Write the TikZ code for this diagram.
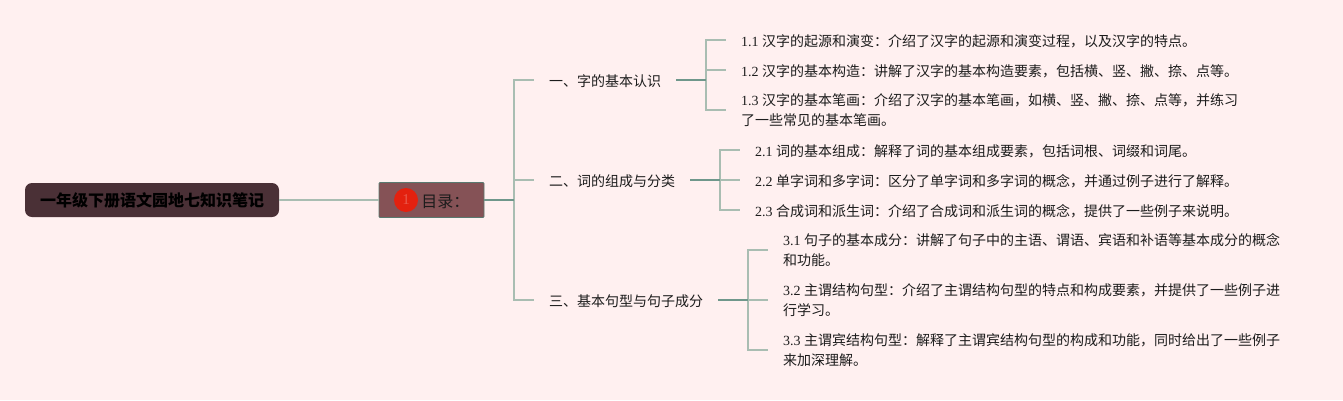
\documentclass[tikz,border=0pt]{standalone}
\usepackage{fontspec}
\setmainfont{Liberation Serif}
\newfontfamily\cjk{Noto Sans CJK SC}
\definecolor{pagebg}{HTML}{FFF0F0}
\definecolor{rootfill}{HTML}{4A3036}
\definecolor{tocfill}{HTML}{855256}
\definecolor{linelight}{HTML}{A9BDB2}
\definecolor{linedark}{HTML}{6F978B}
\definecolor{inktext}{HTML}{1C1C1C}
\definecolor{badge}{HTML}{E3210F}
\usetikzlibrary{positioning}
\begin{document}
\begin{tikzpicture}[x=1pt,y=-1pt,
rootbox/.style={fill=rootfill,rounded corners=7pt,minimum width=254pt,minimum height=34pt,inner sep=0pt,font=\fontsize{16}{20}\selectfont\cjk\bfseries,text=black},
tocbox/.style={fill=tocfill,draw=linedark!80!black,line width=0.8pt,rounded corners=1pt,minimum width=105pt,minimum height=35pt,inner sep=0pt},
badgemark/.style={circle,fill=badge,minimum size=24pt,inner sep=0pt,font=\fontsize{15}{16}\selectfont,text=badge!75!white},
secnode/.style={inner xsep=15pt,inner ysep=0pt,font=\fontsize{14}{20}\selectfont\cjk,text=inktext,execute at begin node={\rule{0pt}{14.5pt}}},
leafnode/.style={inner xsep=15pt,inner ysep=0pt,align=left,font=\fontsize{14}{20}\selectfont,text=inktext,execute at begin node={\rule{0pt}{14.5pt}}},
longleaf/.style={leafnode,execute at begin node={\rule{0pt}{18pt}}},
thin link/.style={draw=linelight,line width=1.4pt},
thick link/.style={draw=linedark,line width=1.6pt}]
\useasboundingbox[fill=pagebg] (0,0) rectangle (1343,400);

\node[rootbox] (root) at (152,200) {\rule{0pt}{15.5pt}一年级下册语文园地七知识笔记};
\node[tocbox] (toc) at (431.5,200) {};
\node[badgemark] (mark) at (406,200) {1};
\node[right=3pt of mark,inner sep=0pt,font=\fontsize{16}{20}\selectfont\cjk,text=inktext] (toctext) {\rule{0pt}{15.5pt}目录：};

\coordinate (trunk) at (514,200);
\node[secnode,anchor=west] (secA) at (534,80) {一、字的基本认识};
\node[secnode,anchor=west] (secB) at (534,180) {二、词的组成与分类};
\node[secnode,anchor=west] (secC) at (534,300) {三、基本句型与句子成分};

\coordinate (forkA) at (706,80);
\coordinate (forkB) at (720,180);
\coordinate (forkC) at (748,300);

\node[leafnode,anchor=west] (leafA1) at (726,40) {1.1 {\cjk 汉字的起源和演变：介绍了汉字的起源和演变过程，以及汉字的特点。}};
\node[leafnode,anchor=west] (leafA2) at (726,70) {1.2 {\cjk 汉字的基本构造：讲解了汉字的基本构造要素，包括横、竖、撇、捺、点等。}};
\node[longleaf,anchor=west] (leafA3) at (726,110) {1.3 {\cjk 汉字的基本笔画：介绍了汉字的基本笔画，如横、竖、撇、捺、点等，并练习}\\{\cjk 了一些常见的基本笔画。}};

\node[leafnode,anchor=west] (leafB1) at (740,150) {2.1 {\cjk 词的基本组成：解释了词的基本组成要素，包括词根、词缀和词尾。}};
\node[leafnode,anchor=west] (leafB2) at (740,180) {2.2 {\cjk 单字词和多字词：区分了单字词和多字词的概念，并通过例子进行了解释。}};
\node[leafnode,anchor=west] (leafB3) at (740,210) {2.3 {\cjk 合成词和派生词：介绍了合成词和派生词的概念，提供了一些例子来说明。}};

\node[longleaf,anchor=west] (leafC1) at (768,250) {3.1 {\cjk 句子的基本成分：讲解了句子中的主语、谓语、宾语和补语等基本成分的概念}\\{\cjk 和功能。}};
\node[longleaf,anchor=west] (leafC2) at (768,300) {3.2 {\cjk 主谓结构句型：介绍了主谓结构句型的特点和构成要素，并提供了一些例子进}\\{\cjk 行学习。}};
\node[longleaf,anchor=west] (leafC3) at (768,350) {3.3 {\cjk 主谓宾结构句型：解释了主谓宾结构句型的构成和功能，同时给出了一些例子}\\{\cjk 来加深理解。}};

\draw[thin link] (root.east) -- (toc.west);

\draw[thin link] (trunk) |- (secA.west);
\draw[thin link] (trunk) |- (secB.west);
\draw[thin link] (trunk) |- (secC.west);
\draw[thick link] (toc.east) -- (trunk);

\draw[thin link] (forkA) |- (leafA1.west);
\draw[thin link] (forkA) |- (leafA2.west);
\draw[thin link] (forkA) |- (leafA3.west);
\draw[thick link] (secA.east) -- (forkA);

\draw[thin link] (forkB) |- (leafB1.west);
\draw[thin link] (forkB) -- (leafB2.west);
\draw[thin link] (forkB) |- (leafB3.west);
\draw[thick link] (secB.east) -- (forkB);

\draw[thin link] (forkC) |- (leafC1.west);
\draw[thin link] (forkC) -- (leafC2.west);
\draw[thin link] (forkC) |- (leafC3.west);
\draw[thick link] (secC.east) -- (forkC);
\end{tikzpicture}
\end{document}
